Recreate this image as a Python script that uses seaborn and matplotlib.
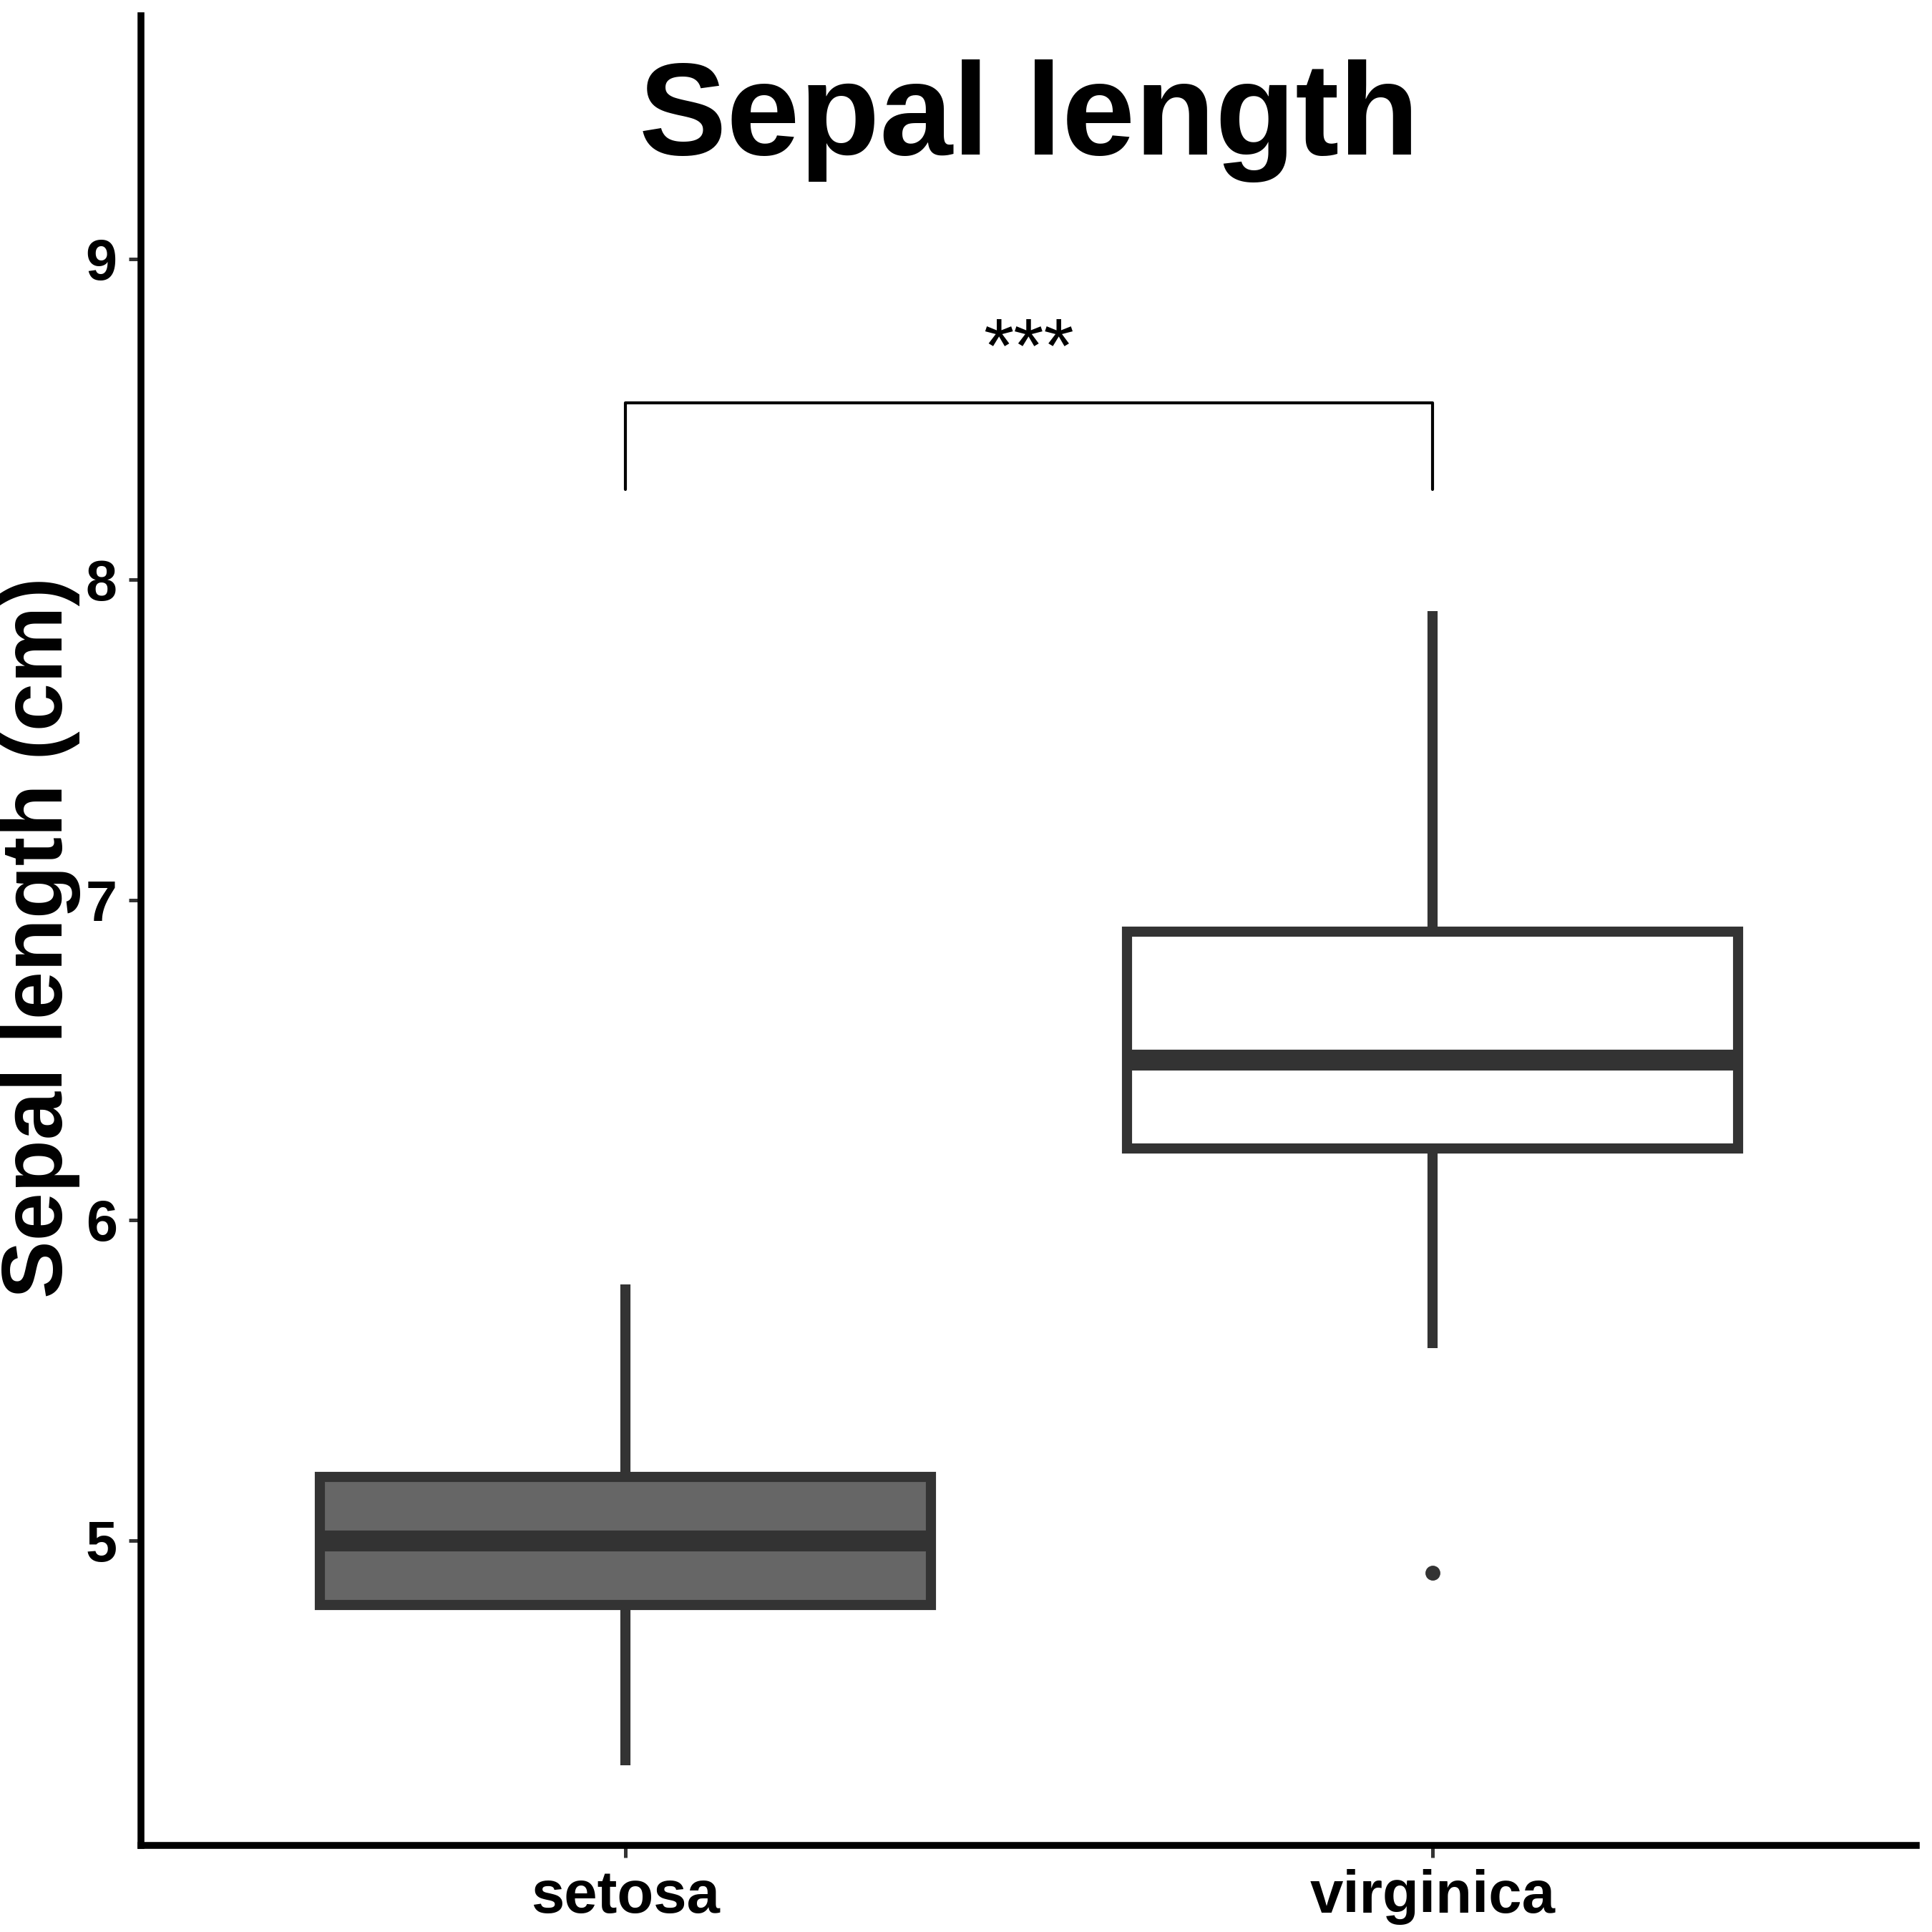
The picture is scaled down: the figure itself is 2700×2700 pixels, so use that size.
import matplotlib
matplotlib.use("Agg")
import matplotlib.pyplot as plt
import seaborn as sns
import pandas as pd

setosa = [5.1,4.9,4.7,4.6,5.0,5.4,4.6,5.0,4.4,4.9,5.4,4.8,4.8,4.3,5.8,5.7,5.4,5.1,5.7,5.1,
          5.4,5.1,4.6,5.1,4.8,5.0,5.0,5.2,5.2,4.7,4.8,5.4,5.2,5.5,4.9,5.0,5.5,4.9,4.4,5.1,
          5.0,4.5,4.4,5.0,5.1,4.8,5.1,4.6,5.3,5.0]
virginica = [6.3,5.8,7.1,6.3,6.5,7.6,4.9,7.3,6.7,7.2,6.5,6.4,6.8,5.7,5.8,6.4,6.5,7.7,7.7,6.0,
             6.9,5.6,7.7,6.3,6.7,7.2,6.2,6.1,6.4,7.2,7.4,7.9,6.4,6.3,6.1,7.7,6.3,6.4,6.0,6.9,
             6.7,6.9,5.8,6.8,6.7,6.7,6.3,6.5,6.2,5.9]
species = ["setosa", "virginica"]
yticks = [5, 6, 7, 8, 9]

df = pd.DataFrame({"species": ["setosa"]*len(setosa) + ["virginica"]*len(virginica),
                   "value": setosa + virginica})

sns.set_style("white")
plt.rcParams['font.family'] = ['Liberation Sans', 'DejaVu Sans']
plt.rcParams['text.color'] = 'black'
plt.rcParams['axes.labelcolor'] = 'black'
plt.rcParams['xtick.color'] = 'black'
plt.rcParams['ytick.color'] = 'black'

fig = plt.figure(figsize=(9, 9), dpi=300)
ax = fig.add_axes([0.073, 0.045, 0.919, 0.947])
ec = "#333333"
sns.boxplot(data=df, x="species", y="value", order=species, hue="species",
            palette={"setosa": "#666666", "virginica": "white"}, legend=False,
            width=0.757, linewidth=3.4, linecolor=ec, whis=1.5,
            medianprops=dict(linewidth=7, color=ec),
            whiskerprops=dict(linewidth=3.4, color=ec),
            capprops=dict(linewidth=0),
            flierprops=dict(marker="o", markersize=4, markerfacecolor=ec,
                            markeredgecolor=ec), ax=ax)

ax.set_xlim(-0.6, 1.6)
ax.set_ylim(4.05, 9.76)
ax.set_yticks(yticks)
ax.set_yticklabels([str(t) for t in yticks], fontsize=19, fontweight="bold", color="black")
ax.set_xticks([0, 1])
ax.set_xticklabels(species, fontsize=20, fontweight="bold", color="black")
ax.set_xlabel("")
ax.set_ylabel("Sepal length (cm)", fontsize=29, fontweight="bold", color="black")
ax.yaxis.set_label_coords(-0.034, 0.496)
ax.tick_params(axis="both", length=4, width=1.2, color="#333333", direction="out",
               left=True, bottom=True, pad=4)
for s in ["top", "right"]:
    ax.spines[s].set_visible(False)
for s in ["left", "bottom"]:
    ax.spines[s].set_linewidth(2.3)
    ax.spines[s].set_color("black")

ax.plot([0, 0, 1, 1], [8.28, 8.55, 8.55, 8.28], color="black", lw=1.0)
ax.text(0.5, 8.6, "***", ha="center", va="bottom", fontsize=26, color="black")
ax.text(0.5, 9.43, "Sepal length", ha="center", va="center", fontsize=44,
        fontweight="bold", color="black")

fig.savefig("out.png", dpi=300)
